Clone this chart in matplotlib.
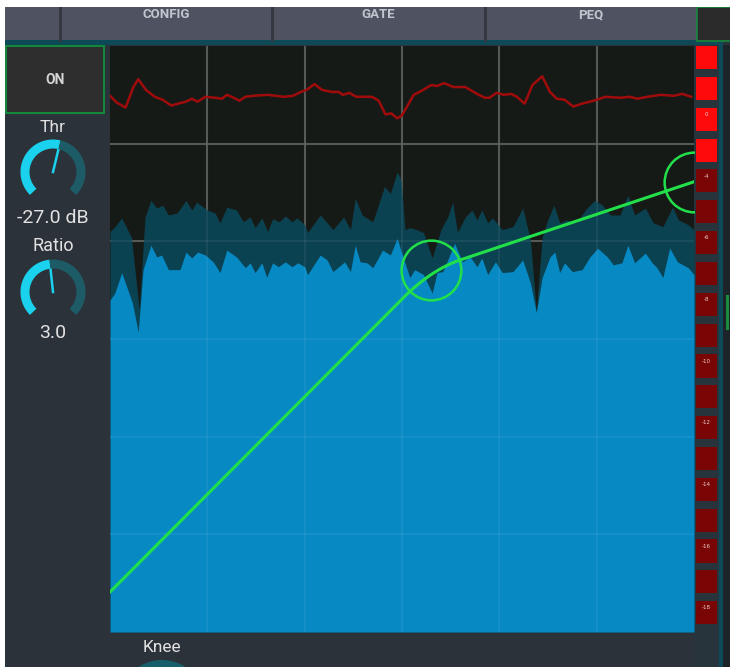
"""
Tela do compressor (mixer) - historico de nivel, curva de transferencia e medidor GR
"""
import numpy as np
import matplotlib.pyplot as plt
from matplotlib.patches import Rectangle, Circle

W, H = 730, 667

# historico: x = tempo (0..60), y = nivel em dB
blue_t = [0.0, 0.5, 1.2, 2.3, 2.9, 3.4, 4.2, 4.8, 5.3, 6.0, 7.2, 7.8, 8.4, 9.0, 9.8,
          10.6, 11.3, 12.0, 13.0, 13.9, 14.4, 14.9, 15.6, 16.1, 16.7, 17.3, 18.0, 18.7,
          19.3, 20.0, 20.3, 21.6, 22.3, 22.9, 24.1, 24.7, 25.2, 25.7, 26.4, 27.0, 28.0,
          28.8, 29.5, 30.1, 30.8, 31.3, 32.2, 33.1, 33.6, 34.2, 34.7, 35.4, 36.2, 37.0,
          37.7, 38.2, 38.8, 39.6, 40.3, 41.4, 42.4, 43.2, 43.8, 44.4, 45.2, 45.7, 46.2,
          46.7, 47.5, 48.5, 49.3, 50.1, 51.1, 51.7, 52.6, 53.2, 53.9, 55.0, 55.7, 56.2,
          56.8, 57.5, 58.3, 59.4, 60.0]
blue_db = [-26.0, -25.3, -23.2, -26.3, -29.3, -22.9, -20.4, -21.6, -21.4, -22.9, -22.9,
           -21.1, -21.7, -21.1, -21.4, -22.1, -23.2, -20.9, -21.6, -22.7, -22.2, -23.2,
           -22.2, -23.7, -22.2, -22.6, -22.1, -22.6, -22.2, -22.6, -23.4, -21.4, -21.9,
           -23.1, -22.1, -23.1, -20.4, -22.1, -22.2, -22.7, -20.9, -21.4, -19.7, -21.6,
           -23.7, -22.9, -23.4, -25.3, -23.2, -23.1, -21.9, -20.2, -22.1, -21.6, -22.6,
           -21.7, -23.4, -22.1, -23.2, -23.1, -21.9, -24.3, -27.3, -23.7, -21.6, -21.1,
           -23.2, -22.2, -23.1, -22.9, -21.6, -20.7, -21.6, -22.4, -22.2, -20.4, -22.2,
           -21.2, -22.2, -22.7, -23.7, -20.7, -22.1, -22.7, -23.4]

peak_t = [0.0, 0.5, 1.2, 2.2, 3.0, 3.6, 4.2, 4.8, 5.4, 6.0, 6.9, 7.8, 8.4, 8.9, 10.0,
          10.8, 11.3, 12.0, 13.0, 13.7, 14.4, 14.9, 15.6, 16.2, 16.7, 17.4, 18.0, 18.7,
          19.2, 20.0, 20.3, 21.6, 22.3, 22.9, 24.0, 24.7, 25.2, 25.9, 27.0, 28.2, 28.8,
          29.5, 29.9, 30.3, 30.8, 31.5, 32.2, 33.1, 34.0, 34.7, 35.2, 35.7, 36.5, 37.2,
          37.7, 38.2, 38.8, 39.3, 40.3, 41.4, 42.4, 43.2, 43.8, 44.4, 44.9, 45.6, 46.2,
          46.9, 47.9, 49.0, 49.8, 50.6, 51.4, 52.4, 53.2, 53.9, 55.0, 55.8, 56.8, 57.8,
          58.4, 59.4, 60.0]
peak_db = [-19.0, -18.5, -17.6, -19.6, -27.0, -17.5, -15.8, -16.6, -16.3, -17.3, -17.1,
           -15.8, -16.8, -16.0, -16.8, -17.1, -18.1, -16.5, -16.8, -18.0, -17.5, -18.6,
           -17.6, -19.0, -17.7, -18.0, -17.4, -18.0, -17.6, -18.3, -19.1, -17.3, -18.1,
           -18.8, -17.5, -18.8, -15.6, -17.3, -18.0, -14.4, -15.1, -12.9, -13.7, -18.8,
           -18.6, -18.8, -19.1, -21.7, -18.8, -17.5, -16.0, -19.1, -17.5, -16.8, -17.8,
           -16.8, -18.1, -17.6, -18.8, -18.5, -16.6, -19.9, -27.2, -19.6, -18.0, -16.3,
           -18.1, -17.8, -18.1, -16.6, -15.8, -16.3, -17.3, -17.3, -15.3, -17.3, -16.6,
           -18.1, -18.5, -16.5, -17.8, -18.3, -18.8]

gr_t = [0.0, 0.7, 1.6, 2.4, 2.9, 3.7, 4.6, 5.4, 6.3, 7.0, 7.8, 8.4, 9.0, 9.8, 10.8,
        11.5, 12.0, 12.5, 13.3, 13.9, 14.7, 16.2, 17.9, 18.8, 19.6, 20.2, 21.0, 21.8,
        22.8, 23.5, 23.9, 24.6, 25.3, 26.9, 27.6, 28.3, 28.9, 29.5, 30.0, 31.2, 32.0,
        33.0, 33.6, 34.3, 35.3, 36.5, 37.7, 38.5, 39.0, 39.7, 40.5, 41.2, 41.8, 42.6,
        43.4, 44.4, 45.2, 45.9, 46.7, 47.6, 48.5, 49.7, 50.9, 52.4, 53.4, 54.2, 55.2,
        56.6, 57.9, 58.8, 59.7]
gr_db = [-5.1, -5.8, -6.3, -4.2, -3.4, -4.5, -5.2, -5.5, -6.1, -5.9, -5.7, -5.4, -5.7,
         -5.2, -5.3, -5.4, -5.0, -5.2, -5.6, -5.2, -5.1, -5.0, -5.2, -5.1, -4.7, -4.5,
         -3.9, -4.5, -4.7, -4.7, -5.0, -4.8, -5.2, -5.2, -5.6, -7.0, -6.9, -7.4, -7.1,
         -5.0, -4.6, -4.0, -4.1, -3.8, -4.2, -4.2, -4.9, -5.3, -5.3, -4.8, -5.0, -4.9,
         -5.2, -5.9, -4.0, -3.1, -4.7, -5.4, -5.5, -6.2, -5.9, -5.6, -5.2, -5.3, -5.2,
         -5.4, -5.2, -5.0, -5.1, -4.9, -5.2]

grid_vals = [10, 20, 30, 40, 50]

thr_db = -27.0
ratio = 3.0
knee_db = 6.0
makeup_db = 4.1

meter_labels = ['', '', '0', '', '-4', '', '-6', '', '-8', '', '-10', '', '-12', '',
                '-14', '', '-16', '', '-18']
meter_lit = 4

tabs = ['CONFIG', 'GATE', 'PEQ']
tab_x = [166, 378, 591]

SLATE = '#2c323a'
TEAL = '#0d4956'
CYAN = '#1ad2ee'
KNOB_OFF = '#1d5c66'
GREEN = '#22e04a'


def rect(x0, y0, x1, y1):
    return [x0 / W, 1 - y1 / H, (x1 - x0) / W, (y1 - y0) / H]


def curva(x):
    x = np.asarray(x, dtype=float)
    d = x - thr_db
    y = np.where(d <= -knee_db / 2, x, thr_db + d / ratio)
    meio = np.abs(d) < knee_db / 2
    y = np.where(meio, x + (1 / ratio - 1) * (d + knee_db / 2) ** 2 / (2 * knee_db), y)
    return y + makeup_db


fig = plt.figure(figsize=(W / 100, H / 100), dpi=100, facecolor=SLATE)

# ── moldura / interface ───────────────────────────────────────────────────────
bg = fig.add_axes([0, 0, 1, 1])
bg.set_xlim(0, W); bg.set_ylim(H, 0); bg.axis('off')

bg.add_patch(Rectangle((5, 7), 692, 33, fc='#4f5361', zorder=1))
for sx in [60, 272, 485]:
    bg.plot([sx, sx], [7, 40], color='#33363e', lw=2, zorder=2)
for nome, tx in zip(tabs, tab_x):
    bg.text(tx, 15, nome, ha='center', va='center', fontsize=9.5, color='#c0c4cc',
            family='Roboto', fontweight='bold', zorder=2)
bg.add_patch(Rectangle((0, 0), W, 7, fc='white', zorder=5))
bg.add_patch(Rectangle((0, 0), 5, H, fc='white', zorder=5))
bg.add_patch(Rectangle((697, 7), 40, 34, fc='#2b2b2b', ec='#17893b', lw=1.2, zorder=2))
bg.add_patch(Rectangle((5, 40), 718, 5, fc=TEAL, zorder=1))
bg.add_patch(Rectangle((694, 45), 25, 622, fc='#27343b', zorder=1))
bg.add_patch(Rectangle((719, 40), 4, 627, fc=TEAL, zorder=1))
bg.add_patch(Rectangle((723, 45), 10, 622, fc='#1c2429', zorder=1))
bg.add_patch(Rectangle((726, 295), 3, 35, fc='#1b8c3c', zorder=2))

bg.add_patch(Rectangle((6, 46), 98, 67, fc='#2e2e2e', ec='#14873c', lw=1.5, zorder=2))
bg.text(55, 80, 'ON', ha='center', va='center', fontsize=10, color='#d4d4d4',
        family='Roboto', fontweight='bold', zorder=3)


def knob(cx, cy, frac, r=28, lw=6.5):
    a0, a1 = 225.0, -45.0
    av = a0 - frac * (a0 - a1)
    ang = np.radians(np.linspace(a0, av, 60))
    bg.plot(cx + r * np.cos(ang), cy - r * np.sin(ang), color=CYAN, lw=lw,
            solid_capstyle='butt', zorder=3)
    ang = np.radians(np.linspace(av, a1, 60))
    bg.plot(cx + r * np.cos(ang), cy - r * np.sin(ang), color=KNOB_OFF, lw=lw,
            solid_capstyle='butt', zorder=3)
    a = np.radians(av)
    bg.plot([cx, cx + 0.8 * r * np.cos(a)], [cy, cy - 0.8 * r * np.sin(a)],
            color=CYAN, lw=1.8, zorder=3)


txt = dict(ha='center', va='center', color='#e2e2e2', family='Roboto', zorder=3)
bg.text(53, 127, 'Thr', fontsize=12.5, **txt)
knob(53, 172, (thr_db + 60) / 60)
bg.text(53, 218, f'{thr_db:.1f} dB', fontsize=14, **txt)
bg.text(53, 246, 'Ratio', fontsize=13, **txt)
knob(53, 292, np.log(ratio) / np.log(10))
bg.text(53, 333, f'{ratio:.1f}', fontsize=14, **txt)
bg.text(162, 647, 'Knee', fontsize=12.5, **txt)
bg.add_patch(Circle((162, 703), 43, fc='#17606b', zorder=2))

# ── historico de nivel ────────────────────────────────────────────────────────
ax = fig.add_axes(rect(110, 46, 694, 632))
ax.set_facecolor('#161a16')
ax.set_xlim(0, 60); ax.set_ylim(-60, 0)
for v in grid_vals:
    ax.axvline(v, color='#4c504d', lw=1.5, zorder=0.5)
    ax.axhline(v - 60, color='#4c504d', lw=1.5, zorder=0.5)
ax.fill_between(peak_t, -60, peak_db, color='#0b4251', lw=0, zorder=1)
ax.fill_between(blue_t, -60, blue_db, color='#0789c4', lw=0, zorder=1.2)
for v in grid_vals:
    ax.axvline(v, color='white', lw=1.2, alpha=0.07, zorder=1.5)
    ax.axhline(v - 60, color='white', lw=1.2, alpha=0.07, zorder=1.5)
ax.plot(gr_t, gr_db, color='#a00c0c', lw=1.8, zorder=2)
ax.set_xticks([]); ax.set_yticks([])
for s in ax.spines.values():
    s.set_visible(False)

# ── curva de transferencia ────────────────────────────────────────────────────
ax2 = fig.add_axes(rect(110, 46, 694, 632))
ax2.patch.set_visible(False)
ax2.set_xlim(-60, 0); ax2.set_ylim(-60, 0)
ax2.axis('off')
xin = np.linspace(-60, 0, 400)
ax2.plot(xin, curva(xin), color=GREEN, lw=2.2, zorder=3)
ax2.plot([thr_db, 0], [thr_db + makeup_db, float(curva(0.0))], 'o', ms=43,
         mfc='none', mec=GREEN, mew=1.8, zorder=3)

# ── medidor de reducao de ganho ───────────────────────────────────────────────
axm = fig.add_axes(rect(694, 46, 720, 632))
axm.patch.set_visible(False)
axm.set_xlim(0, 1); axm.set_ylim(len(meter_labels), 0)
axm.axis('off')
for i, lab in enumerate(meter_labels):
    cor = '#ff0a0a' if i < meter_lit else '#7a0505'
    axm.barh(i, 0.82, left=0.07, height=0.75, align='edge', color=cor)
    if lab:
        axm.text(0.48, i + 0.22, lab, ha='center', va='center', fontsize=4,
                 color='#f0d0d0')

fig.savefig('out.png', dpi=100, facecolor=fig.get_facecolor())
